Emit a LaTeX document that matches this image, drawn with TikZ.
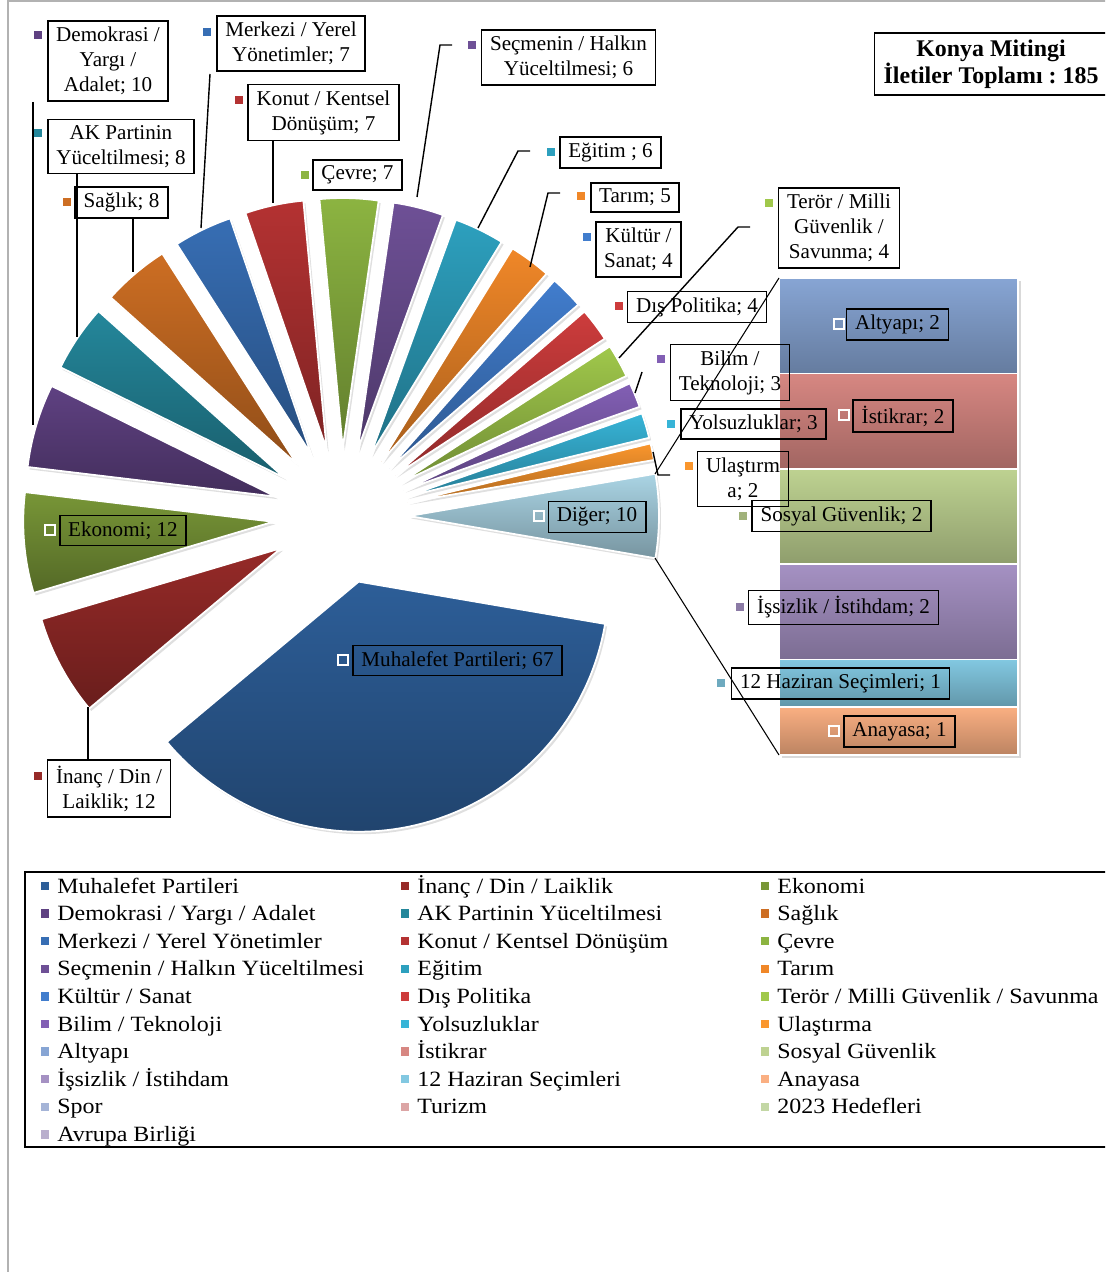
\documentclass[tikz,border=0pt]{standalone}
\usepackage{fontspec}
\setmainfont{Liberation Serif}
\newfontfamily\legfont[FakeStretch=1.1]{Liberation Serif}
\usetikzlibrary{positioning,shadows}
\frenchspacing

\definecolor{cMuh}{RGB}{45,94,152}
\definecolor{cIna}{RGB}{150,42,40}
\definecolor{cEko}{RGB}{120,150,55}
\definecolor{cDem}{RGB}{95,65,130}
\definecolor{cAK}{RGB}{36,135,155}
\definecolor{cSag}{RGB}{205,110,35}
\definecolor{cMer}{RGB}{55,110,180}
\definecolor{cKon}{RGB}{180,50,50}
\definecolor{cCev}{RGB}{140,180,65}
\definecolor{cSec}{RGB}{110,80,150}
\definecolor{cEgi}{RGB}{45,160,190}
\definecolor{cTar}{RGB}{240,135,40}
\definecolor{cKul}{RGB}{65,125,205}
\definecolor{cDis}{RGB}{205,60,60}
\definecolor{cTer}{RGB}{160,200,75}
\definecolor{cBil}{RGB}{130,95,180}
\definecolor{cYol}{RGB}{55,180,215}
\definecolor{cUla}{RGB}{250,150,45}
\definecolor{cDig}{RGB}{170,212,228}
\definecolor{cAlt}{RGB}{135,165,212}
\definecolor{cIst}{RGB}{215,135,130}
\definecolor{cSos}{RGB}{190,210,145}
\definecolor{cIss}{RGB}{165,145,195}
\definecolor{cHaz}{RGB}{130,200,225}
\definecolor{cAna}{RGB}{250,175,130}
\definecolor{cSpo}{RGB}{165,180,215}
\definecolor{cTur}{RGB}{220,165,165}
\definecolor{cHed}{RGB}{195,215,165}
\definecolor{cAB}{RGB}{185,175,205}

\begin{document}
\begin{tikzpicture}[x=0.2mm,y=-0.2mm,
 slice/.style={top color=#1,bottom color=#1!70!black,draw=white,line width=1pt,
   drop shadow={shadow xshift=0.4mm,shadow yshift=-0.5mm,opacity=0.25}},
 bar/.style={rectangle,inner sep=0pt,outer sep=0pt,minimum width=47.8mm,top color=#1,
   bottom color=#1!75!black,draw=white,line width=1pt,
   drop shadow={shadow xshift=0.6mm,shadow yshift=-0.6mm,opacity=0.3}},
 lbl/.style={draw,line width=1pt,inner xsep=1.7mm,inner ysep=1.2mm,align=center,
   font=\fontsize{12}{14.2}\selectfont},
 mk/.style={fill=#1,minimum size=1.5mm,inner sep=0pt},
 hmk/.style={draw=white,line width=1pt,minimum size=1.9mm,inner sep=0pt},
 lmk/.style={fill=#1,minimum width=1.5mm,minimum height=1.7mm,inner sep=0pt},
 ltx/.style={inner sep=0pt,font=\legfont\fontsize{12.4}{15}\selectfont},
 lead/.style={line width=0.8pt},
 serl/.style={line width=0.6pt}]
\useasboundingbox (0,0) rectangle (1105,1272);
\clip (0,0) rectangle (1105,1272);

% chart frame
\draw[gray!60,line width=0.8pt] (8,1280) -- (8,1) -- (1110,1);

% pie (exploded)
\foreach \s/\e/\clr in {-9.73/9.73/cDig, 9.73/140.11/cMuh, 140.11/163.46/cIna,
  163.46/186.81/cEko, 186.81/206.27/cDem, 206.27/221.84/cAK, 221.84/237.41/cSag,
  237.41/251.03/cMer, 251.03/264.65/cKon, 264.65/278.27/cCev, 278.27/289.95/cSec,
  289.95/301.62/cEgi, 301.62/311.35/cTar, 311.35/319.14/cKul, 319.14/326.92/cDis,
  326.92/334.70/cTer, 334.70/340.54/cBil, 340.54/346.38/cYol, 346.38/350.27/cUla}
  \path[slice=\clr,shift={({(\s+\e)/2}:68)}] (341,516) -- ++(\s:250)
    arc[start angle=\s,end angle=\e,radius=250] -- cycle;

% bar of the pie
\node[bar=cAlt,minimum height=19.08mm,anchor=north west] (b_alt) at (779,278) {};
\node[bar=cIst,minimum height=19.08mm,below=0pt of b_alt] (b_ist) {};
\node[bar=cSos,minimum height=19.08mm,below=0pt of b_ist] (b_sos) {};
\node[bar=cIss,minimum height=19.08mm,below=0pt of b_sos] (b_iss) {};
\node[bar=cHaz,minimum height=9.54mm,below=0pt of b_iss] (b_haz) {};
\node[bar=cAna,minimum height=9.54mm,below=0pt of b_haz] (b_ana) {};

% title
\node[draw,line width=1pt,align=center,inner xsep=1.8mm,inner ysep=1.4mm,
  font=\fontsize{13.6}{15.4}\selectfont\bfseries] (t_konya) at (991,64)
  {Konya Mitingi\\İletiler Toplamı : 185};

% data labels
\node[lbl] (l_dem) at (108,61) {Demokrasi /\\Yargı /\\Adalet; 10};
\node[mk=cDem] (m_dem) at (38,35) {};
\node[lbl] (l_ak) at (121,146.5) {AK Partinin\\Yüceltilmesi; 8};
\node[mk=cAK] (m_ak) at (38,133) {};
\node[lbl] (l_sag) at (121.5,202.5) {Sağlık; 8};
\node[mk=cSag] (m_sag) at (67,202) {};
\node[lbl] (l_mer) at (291,43.5) {Merkezi / Yerel\\Yönetimler; 7};
\node[mk=cMer] (m_mer) at (207,32) {};
\node[lbl] (l_kon) at (323.5,112.5) {Konut / Kentsel\\Dönüşüm; 7};
\node[mk=cKon] (m_kon) at (239,100) {};
\node[lbl] (l_cev) at (357.5,175) {Çevre; 7};
\node[mk=cCev] (m_cev) at (305,175) {};
\node[lbl] (l_sec) at (568.5,57.5) {Seçmenin / Halkın\\Yüceltilmesi; 6};
\node[mk=cSec] (m_sec) at (472,45) {};
\node[lbl] (l_egi) at (610.5,152.5) {Eğitim ; 6};
\node[mk=cEgi] (m_egi) at (551,152) {};
\node[lbl] (l_tar) at (635,197.5) {Tarım; 5};
\node[mk=cTar] (m_tar) at (581,196) {};
\node[lbl] (l_kul) at (638.5,249.5) {Kültür /\\Sanat; 4};
\node[mk=cKul] (m_kul) at (587,237) {};
\node[lbl] (l_ter) at (839,228) {Terör / Milli\\Güvenlik /\\Savunma; 4};
\node[mk=cTer] (m_ter) at (769,203) {};
\node[lbl] (l_dis) at (697,307) {Dış Politika; 4};
\node[mk=cDis] (m_dis) at (619,306) {};
\node[lbl] (l_bil) at (730,372.5) {Bilim /\\Teknoloji; 3};
\node[mk=cBil] (m_bil) at (661,359) {};
\node[lbl] (l_yol) at (753.5,424) {Yolsuzluklar; 3};
\node[mk=cYol] (m_yol) at (671,424) {};
\node[lbl] (l_ula) at (743,479) {Ulaştırm\\a; 2};
\node[mk=cUla] (m_ula) at (689,466) {};
\node[lbl] (l_eko) at (123,530.5) {Ekonomi; 12};
\node[hmk] (m_eko) at (50,530) {};
\node[lbl] (l_ina) at (109,788.5) {İnanç / Din /\\Laiklik; 12};
\node[mk=cIna] (m_ina) at (38,776) {};
\node[lbl] (l_muh) at (457.5,660.5) {Muhalefet Partileri; 67};
\node[hmk] (m_muh) at (343,660) {};
\node[lbl] (l_dig) at (597,517) {Diğer; 10};
\node[hmk] (m_dig) at (539,516) {};
\node[lbl] (l_alt) at (897.5,324.5) {Altyapı; 2};
\node[hmk] (m_alt) at (839,324) {};
\node[lbl] (l_ist) at (903,416) {İstikrar; 2};
\node[hmk] (m_ist) at (844,415) {};
\node[lbl] (l_sos) at (841.5,516) {Sosyal Güvenlik; 2};
\node[mk=cSos!85!black] (m_sos) at (743,516) {};
\node[lbl] (l_iss) at (843.5,607.5) {İşsizlik / İstihdam; 2};
\node[mk=cIss!85!black] (m_iss) at (740,607) {};
\node[lbl] (l_haz) at (840.5,683.5) {12 Haziran Seçimleri; 1};
\node[mk=cHaz!85!black] (m_haz) at (721,683) {};
\node[lbl] (l_ana) at (899.5,731.5) {Anayasa; 1};
\node[hmk] (m_ana) at (834,731) {};

% leader lines
\coordinate (p_dem) at (33,425);
\coordinate (p_ak) at (77,337);
\coordinate (p_sag) at (133,272);
\coordinate (q_mer) at (210,74);
\coordinate (p_mer) at (201,228);
\coordinate (p_kon) at (273,203);
\coordinate (q_sec) at (452,45);
\coordinate (p_sec) at (417,197);
\coordinate (q_egi) at (530,151);
\coordinate (p_egi) at (478,228);
\coordinate (q_tar) at (560,193);
\coordinate (p_tar) at (530,267);
\coordinate (q_ter) at (750,227);
\coordinate (p_ter) at (619,358);
\coordinate (q_bil) at (642,372);
\coordinate (p_bil) at (635,393);
\coordinate (q_ula) at (670,475);
\coordinate (p_ula) at (653,452);
\coordinate (p_ina) at (88,707);
\draw[lead] (l_dem.south -| p_dem) -- (p_dem);
\draw[lead] (l_ak.south -| p_ak) -- (p_ak);
\draw[lead] (l_sag.south -| p_sag) -- (p_sag);
\draw[lead] (q_mer) -- (p_mer);
\draw[lead] (l_kon.south -| p_kon) -- (p_kon);
\draw[lead] (q_sec) -- ++(-12,0) -- (p_sec);
\draw[lead] (q_egi) -- ++(-12,0) -- (p_egi);
\draw[lead] (q_tar) -- ++(-12,0) -- (p_tar);
\draw[lead] (q_ter) -- ++(-12,0) -- (p_ter);
\draw[lead] (q_bil) -- (p_bil);
\draw[lead] (q_ula) -- ++(-12,0) -- (p_ula);
\draw[lead] (l_ina.north -| p_ina) -- (p_ina);

% series lines pie -> bar
\coordinate (d_top) at (655,474);
\coordinate (d_bot) at (655,558);
\draw[serl] (d_top) -- (b_alt.north west);
\draw[serl] (d_bot) -- (b_ana.south west);

% legend
\draw[line width=1.2pt] (25,872) rectangle (1120,1147);
\foreach \clr/\t [count=\i from 0] in {cMuh/{Muhalefet Partileri},
  cIna/{İnanç / Din / Laiklik}, cEko/{Ekonomi},
  cDem/{Demokrasi / Yargı / Adalet}, cAK/{AK Partinin Yüceltilmesi}, cSag/{Sağlık},
  cMer/{Merkezi / Yerel Yönetimler}, cKon/{Konut / Kentsel Dönüşüm}, cCev/{Çevre},
  cSec/{Seçmenin / Halkın Yüceltilmesi}, cEgi/{Eğitim}, cTar/{Tarım},
  cKul/{Kültür / Sanat}, cDis/{Dış Politika}, cTer/{Terör / Milli Güvenlik / Savunma},
  cBil/{Bilim / Teknoloji}, cYol/{Yolsuzluklar}, cUla/{Ulaştırma},
  cAlt/{Altyapı}, cIst/{İstikrar}, cSos/{Sosyal Güvenlik},
  cIss/{İşsizlik / İstihdam}, cHaz/{12 Haziran Seçimleri}, cAna/{Anayasa},
  cSpo/{Spor}, cTur/{Turizm}, cHed/{2023 Hedefleri},
  cAB/{Avrupa Birliği}} {
  \pgfmathtruncatemacro\col{mod(\i,3)}
  \pgfmathtruncatemacro\row{\i/3}
  \node[lmk=\clr] (g_\i) at (45+360*\col,886+27.6*\row) {};
  \node[ltx,anchor=base west] (n_\i) at (57+360*\col,893+27.6*\row) {\t};
}
\end{tikzpicture}
\end{document}
